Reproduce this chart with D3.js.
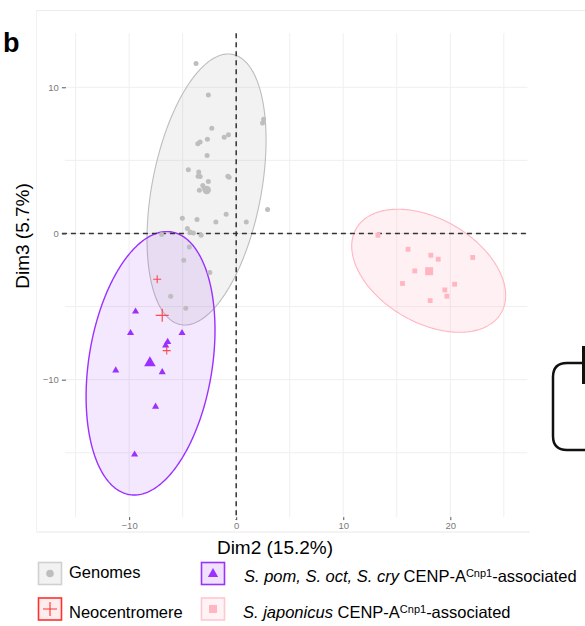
<!DOCTYPE html>
<html><head><meta charset="utf-8">
<script src="https://cdn.jsdelivr.net/npm/d3@7"></script>
<style>body{margin:0;background:#fff}svg{display:block;font-family:"Liberation Sans",Arial,Helvetica,sans-serif}</style>
</head><body><svg id="c" width="585" height="626"></svg>
<script>
// ---------- data ----------
const genomeX = [-3.75,-2.60,2.56,2.46,-2.28,-1.12,-0.72,-2.69,-3.59,-3.37,-2.72,-4.47,-3.50,-3.56,-3.37,-0.78,-0.66,-2.60,-3.12,-2.97,-3.44,2.93,-5.03,-3.66,-1.90,-0.94,0.94,-4.56,-4.31,-4.00,-3.28,-6.96,-4.38,-4.90,-2.46,-6.12,-4.71];
const genomeY = [11.62,9.47,7.81,7.55,7.19,6.58,6.75,6.44,6.14,6.25,5.34,4.36,4.20,3.92,3.89,3.92,3.84,3.56,3.29,3.10,2.95,1.64,1.05,0.96,0.79,1.32,0.79,0.34,0.11,0.04,-0.12,-0.07,-0.92,-1.83,-2.67,-4.29,-5.12];
const genomeCentroid = [-2.75, 2.97];

const pomX = [-9.40,-9.87,-5.06,-6.40,-6.59,-11.25,-6.91,-7.53,-9.49];
const pomY = [-5.34,-6.81,-6.81,-7.42,-7.65,-9.36,-9.48,-11.85,-15.12];
const pomCentroid = [-8.06, -8.86];

const neoX = [-7.38,-6.49];
const neoY = [-3.13,-8.01];
const neoCentroid = [-6.91, -5.60];

const japX = [13.24,16.05,18.18,18.87,22.09,16.68,15.53,20.40,19.49,19.68,18.12];
const japY = [-0.12,-1.08,-1.49,-1.76,-1.64,-2.56,-3.42,-3.47,-3.86,-4.29,-4.59];
const japCentroid = [18.02, -2.58];

// ellipses: centre x, centre y, half-width, half-height, correlation
const ellipseNames = ["Genomes","Pom","Jap"];
const ellipseCx = [-2.77, -8.00, 17.98];
const ellipseCy = [3.01, -8.88, -2.55];
const ellipseW  = [5.56, 6.02, 7.19];
const ellipseH  = [9.27, 9.01, 4.21];
const ellipseRho = [0.365, 0.253, -0.40];

const xTicks = [-10, 0, 10, 20];
const yTicks = [-10, 0, 10];
const xGrid = [-15,-10,-5,0,5,10,15,20,25];
const yGrid = [-15,-10,-5,0,5,10];

// ---------- drawing ----------
const svg = d3.select("#c");
const x = d3.scaleLinear().domain([-16, 27.2]).range([64.9, 527.4]);
const y = d3.scaleLinear().domain([-19.4, 13.7]).range([517.1, 33.2]);

const col = {
  gStroke:"#bdbdbd", gFill:"rgba(190,190,190,0.2)", gPt:"#bebebe",
  pStroke:"#9b30ff", pFill:"rgba(155,48,255,0.11)", pPt:"#9b30ff",
  jStroke:"#ffb6c1", jFill:"rgba(255,182,193,0.2)", jPt:"#ffb6c1",
  nPt:"rgba(255,48,48,0.85)"
};

// outer frame lines
svg.append("line").attr("x1",37).attr("x2",585).attr("y1",10.5).attr("y2",10.5).attr("stroke","#ececec");
svg.append("line").attr("x1",36.5).attr("x2",36.5).attr("y1",10).attr("y2",532).attr("stroke","#f2f2f2");
svg.append("line").attr("x1",37).attr("x2",530).attr("y1",532).attr("y2",532).attr("stroke","#e8e8e8");

// grid
const g = svg.append("g");
g.selectAll(".vg").data(xGrid).join("line")
  .attr("x1",d=>x(d)).attr("x2",d=>x(d)).attr("y1",y.range()[1]).attr("y2",y.range()[0])
  .attr("stroke","#efefef").attr("stroke-width",1);
g.selectAll(".hg").data(yGrid).join("line")
  .attr("y1",d=>y(d)).attr("y2",d=>y(d)).attr("x1",x.range()[0]).attr("x2",x.range()[1])
  .attr("stroke","#efefef").attr("stroke-width",1);

// ellipses
function ellipsePath(i){
  const phi = Math.acos(ellipseRho[i]);
  const pts = d3.range(0, 361).map(a=>{
    const t = a*Math.PI/180;
    return [x(ellipseCx[i] + ellipseW[i]*Math.cos(t)), y(ellipseCy[i] + ellipseH[i]*Math.cos(t - phi))];
  });
  return d3.line()(pts) + "Z";
}
const eStroke = [col.gStroke, col.pStroke, col.jStroke];
const eFill = [col.gFill, col.pFill, col.jFill];
const eW = [1.1, 1.4, 1.1];
[0,2,1].forEach(i=>{
  svg.append("path").attr("d",ellipsePath(i)).attr("fill",eFill[i]).attr("stroke",eStroke[i]).attr("stroke-width",eW[i]);
});

// dashed reference lines
svg.append("line").attr("x1",x(0)).attr("x2",x(0)).attr("y1",y.range()[1]).attr("y2",y.range()[0]+3)
  .attr("stroke","#333").attr("stroke-width",1.5).attr("stroke-dasharray","5,4");
svg.append("line").attr("y1",y(0)).attr("y2",y(0)).attr("x1",x.range()[0]-3).attr("x2",x.range()[1])
  .attr("stroke","#333").attr("stroke-width",1.5).attr("stroke-dasharray","5,4");

// axes
const xAxis = d3.axisBottom(x).tickValues(xTicks).tickSize(3).tickPadding(2).tickFormat(d3.format("d"));
const ax = svg.append("g").attr("transform",`translate(0,${y.range()[0]})`).call(xAxis);
ax.select(".domain").remove();
ax.selectAll("line").attr("stroke","#555");
ax.selectAll("text").attr("fill","#7a7a7a").attr("font-size",9.5).attr("font-family","Liberation Sans, Arial, sans-serif");

const yAxis = d3.axisLeft(y).tickValues(yTicks).tickSize(4).tickPadding(3).tickFormat(d3.format("d"));
const ay = svg.append("g").attr("transform",`translate(${x.range()[0]+1},0)`).call(yAxis);
ay.select(".domain").remove();
ay.selectAll("line").attr("stroke","#555");
ay.selectAll("text").attr("fill","#7a7a7a").attr("font-size",9.5).attr("font-family","Liberation Sans, Arial, sans-serif");

// points
const genomes = genomeX.map((v,i)=>[v, genomeY[i]]);
svg.append("g").selectAll("circle").data(genomes).join("circle")
  .attr("cx",d=>x(d[0])).attr("cy",d=>y(d[1])).attr("r",2.5).attr("fill",col.gPt);
svg.append("circle").attr("cx",x(genomeCentroid[0])).attr("cy",y(genomeCentroid[1])).attr("r",4.2).attr("fill",col.gPt);

const jap = japX.map((v,i)=>[v, japY[i]]);
svg.append("g").selectAll("rect").data(jap).join("rect")
  .attr("x",d=>x(d[0])-2.4).attr("y",d=>y(d[1])-2.4).attr("width",4.8).attr("height",4.8).attr("fill",col.jPt);
svg.append("rect").attr("x",x(japCentroid[0])-4).attr("y",y(japCentroid[1])-4).attr("width",8).attr("height",8).attr("fill",col.jPt);

const pom = pomX.map((v,i)=>[v, pomY[i]]);
const tri = d3.symbol().type(d3.symbolTriangle);
svg.append("g").selectAll("path").data(pom).join("path")
  .attr("d",tri.size(22)()).attr("transform",d=>`translate(${x(d[0])},${y(d[1])})`).attr("fill",col.pPt);
svg.append("path").attr("d",d3.symbol().type(d3.symbolTriangle).size(58)())
  .attr("transform",`translate(${x(pomCentroid[0])},${y(pomCentroid[1])})`).attr("fill",col.pPt);

function plus(cx, cy, r, w){
  svg.append("path").attr("d",`M${cx-r},${cy}H${cx+r}M${cx},${cy-r}V${cy+r}`)
    .attr("stroke",col.nPt).attr("stroke-width",w).attr("fill","none");
}
neoX.forEach((v,i)=>plus(x(v), y(neoY[i]), 4, 1.1));
plus(x(neoCentroid[0]), y(neoCentroid[1]), 6.5, 1.2);

// panel label
svg.append("text").attr("x",3).attr("y",52).attr("font-size",27).attr("font-weight","bold").text("b");

// axis titles
svg.append("text").attr("x",275).attr("y",554).attr("text-anchor","middle").attr("font-size",19).text("Dim2 (15.2%)");
svg.append("text").attr("transform","translate(29,236) rotate(-90)").attr("text-anchor","middle").attr("font-size",19).text("Dim3 (5.7%)");

// legend
function key(x0, y0, stroke, fill){
  svg.append("rect").attr("x",x0).attr("y",y0).attr("width",23).attr("height",22)
    .attr("fill",fill).attr("stroke",stroke).attr("stroke-width",1.6);
}
key(38.5, 562.5, "#d0d0d0", "#f2f2f2");
svg.append("circle").attr("cx",50).attr("cy",573.5).attr("r",3.8).attr("fill",col.gPt);
key(38.5, 598, "#ff3030", "#ffecec");
svg.append("path").attr("d",`M${43},${609}H${57}M50,${602}V${616}`).attr("stroke","#ff3030").attr("stroke-width",1.1);
key(201.5, 562.5, col.pStroke, "#f0e2fd");
svg.append("path").attr("d",d3.symbol().type(d3.symbolTriangle).size(46)()).attr("transform","translate(213,574)").attr("fill",col.pPt);
key(201.5, 598, "#ffc8d0", "#fff3f5");
svg.append("rect").attr("x",209).attr("y",605).attr("width",8).attr("height",8).attr("fill",col.jPt);

svg.append("text").attr("x",69).attr("y",578).attr("font-size",16.5).text("Genomes");
svg.append("text").attr("x",69).attr("y",618).attr("font-size",16.5).text("Neocentromere");

function legText(x0, y0, ital){
  const t = svg.append("text").attr("x",x0).attr("y",y0).attr("font-size",16.5);
  t.append("tspan").attr("font-style","italic").text(ital);
  t.append("tspan").text(" CENP-A");
  t.append("tspan").attr("font-size",11).attr("dy",-5).text("Cnp1");
  t.append("tspan").attr("dy",5).text("-associated");
}
legText(244, 582, "S. pom, S. oct, S. cry");
legText(243, 618, "S. japonicus");

// partial neighbouring panel at right edge
svg.append("path").attr("d","M600,363H567Q553,363 553,377V436Q553,450 567,450H600")
  .attr("fill","none").attr("stroke","#111").attr("stroke-width",2.5);
svg.append("line").attr("x1",583.5).attr("x2",583.5).attr("y1",346).attr("y2",384).attr("stroke","#111").attr("stroke-width",3);
</script></body></html>
